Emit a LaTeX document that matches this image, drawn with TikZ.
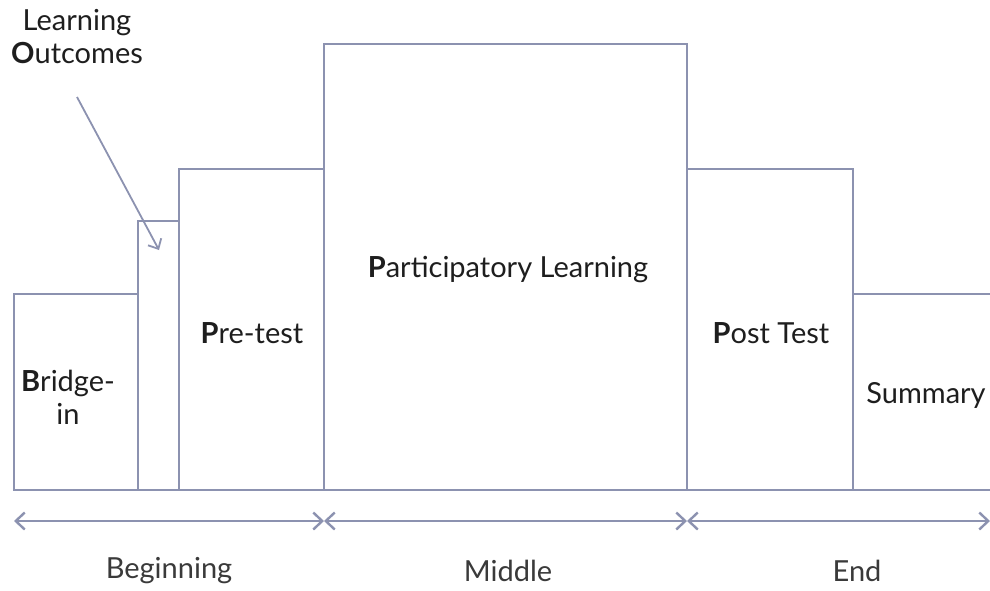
\documentclass[tikz,border=0pt]{standalone}
\usepackage{fontspec}
\setmainfont{Lato}
\usetikzlibrary{arrows.meta}
\definecolor{boxc}{HTML}{8C92B0}
\definecolor{txt}{HTML}{1E1E1E}
\definecolor{lbl}{HTML}{3A3A3A}
\begin{document}
\begin{tikzpicture}[x=1pt,y=-1pt,
  boxline/.style={draw=boxc,line width=2.4pt},
  stage/.style={txt,font=\fontsize{29}{33}\selectfont,align=center,inner sep=0pt},
  phase/.style={lbl,font=\fontsize{29}{33}\selectfont,inner sep=0pt},
  span/.style={boxc,line width=2.4pt,{Straight Barb[length=9pt,width=17pt,line width=2.4pt]}-{Straight Barb[length=9pt,width=17pt,line width=2.4pt]}}]
\useasboundingbox (0,0) rectangle (990,590);
% boxes
\draw[boxline] (14,490) -- (14,294) -- (138,294) -- (138,490);
\draw[boxline] (138,490) -- (138,221) -- (179,221) -- (179,490);
\draw[boxline] (179,490) -- (179,169) -- (324,169) -- (324,490);
\draw[boxline] (324,490) -- (324,44) -- (687,44) -- (687,490);
\draw[boxline] (687,490) -- (687,169) -- (853,169) -- (853,490);
\draw[boxline] (853,490) -- (853,294) -- (992,294);
\draw[boxline] (12.8,490) -- (992,490);
% texts
\node[stage] (lo) at (77,37) {Learning\\\textbf{O}utcomes};
\node[stage] (br) at (68,397) {\textbf{B}ridge-\\in};
\node[stage] (pre) at (252,333) {\textbf{P}re-test};
\node[stage] (pl) at (508,270) {\textbf{P}articipatory Learning};
\node[stage] (post) at (771,333) {\textbf{P}ost Test};
\node[stage] (sum) at (926,395) {Summary};
% pointer
\coordinate (ps) at (77,97);
\coordinate (pe) at (159,250);
\draw[boxc,line width=1.8pt,-{Straight Barb[length=8pt,width=15pt,line width=1.8pt]}] (ps) -- (pe);
% spans
\coordinate (a0) at (14,521);
\coordinate (a1) at (324,521);
\coordinate (a2) at (687,521);
\coordinate (a3) at (990,521);
\draw[span] (a0) -- (a1);
\draw[span] (a1) -- (a2);
\draw[span] (a2) -- (a3);
\node[phase] (beg) at (169,571) {Beginning};
\node[phase] (mid) at (508,571) {Middle};
\node[phase] (end) at (857,571) {End};
\end{tikzpicture}
\end{document}
